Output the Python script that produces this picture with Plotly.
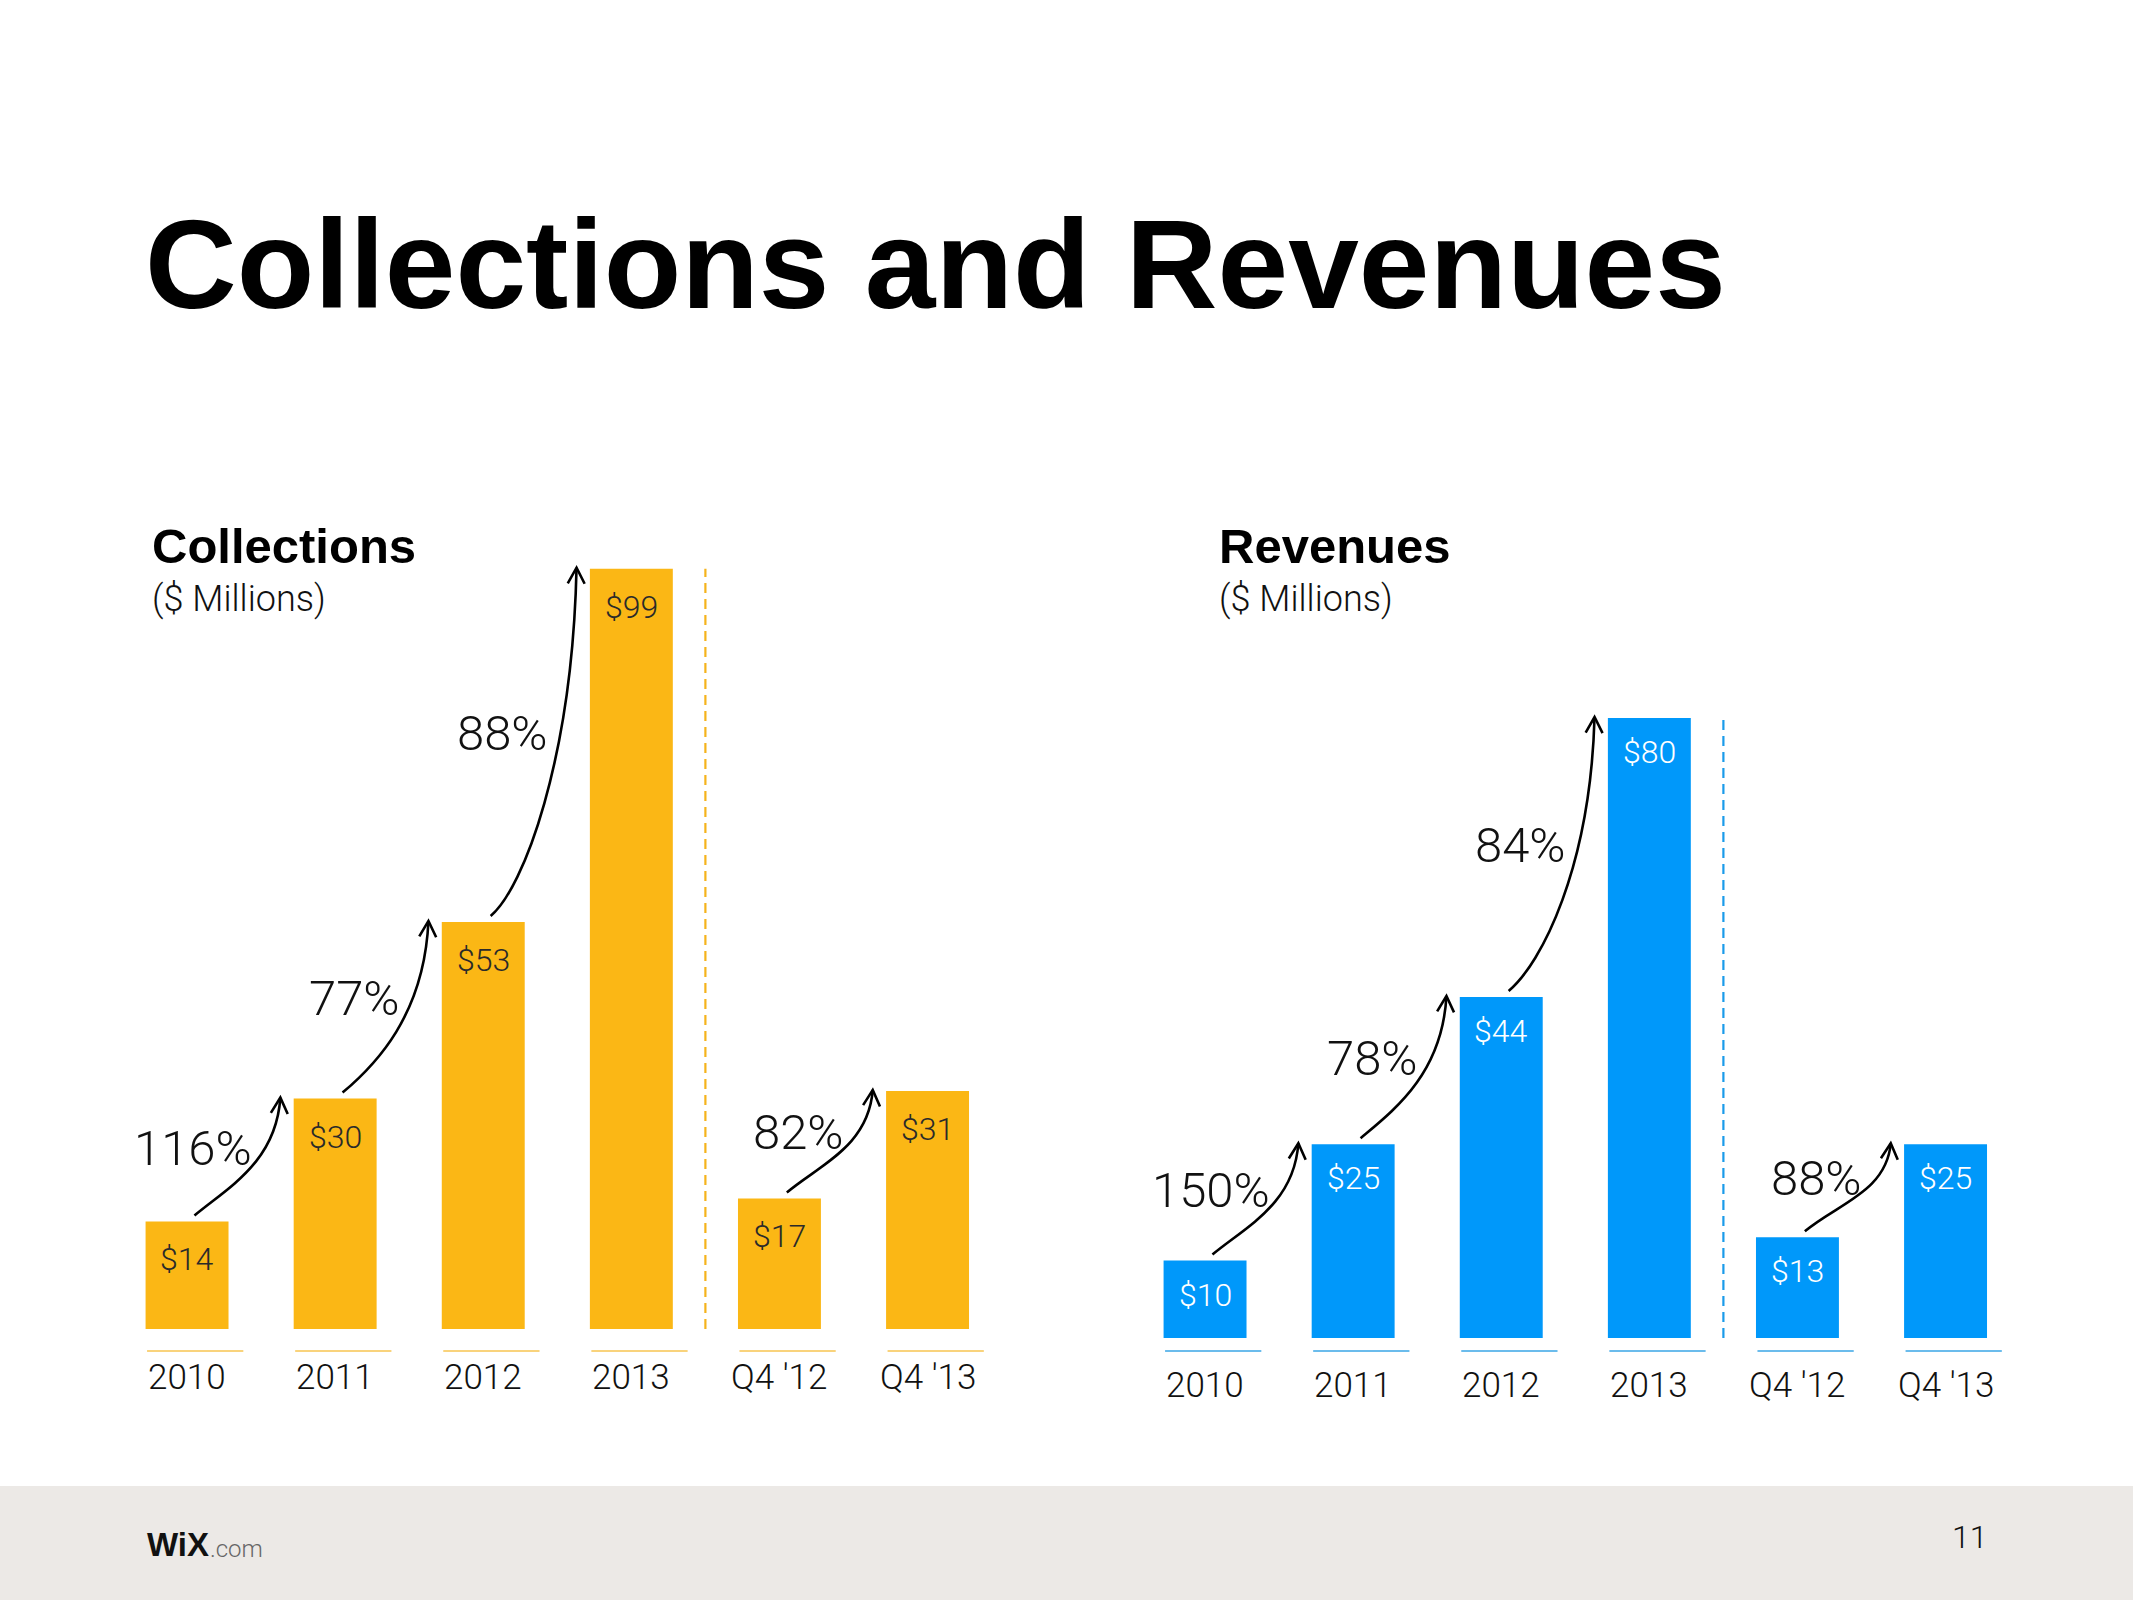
import math
import plotly.graph_objects as go

# ---------------- data ----------------
categories = ["2010", "2011", "2012", "2013", "Q4 '12", "Q4 '13"]
collections = [14, 30, 53, 99, 17, 31]
revenues = [10, 25, 44, 80, 13, 25]
collections_growth = ["116%", "77%", "88%", "82%"]
revenues_growth = ["150%", "78%", "84%", "88%"]
growth_from = [0, 1, 2, 4]
growth_to = [1, 2, 3, 5]
value_labels_collections = ["$14", "$30", "$53", "$99", "$17", "$31"]
value_labels_revenues = ["$10", "$25", "$44", "$80", "$13", "$25"]

# ---------------- layout constants ----------------
W, H = 2133, 1600
PITCH = 148.1          # px per category
Y_LO, Y_HI = -8, 110
LIGHT = "Roboto"
BOLD = "Liberation Sans"

panels = [
    dict(title="Collections", values=collections, growth=collections_growth,
         vlabels=value_labels_collections,
         color="#FBB715", tick_color="#F7C451", dash_color="#F5B31C",
         vlabel_color="#2a2a2a", left_px=113, zero_px=1329, pxu=7.68,
         value_shift=-38, cat_shift=-48, tick_gap=22, head_x=150,
         xa="x", ya="y", xkey="xaxis", ykey="yaxis"),
    dict(title="Revenues", values=revenues, growth=revenues_growth,
         vlabels=value_labels_revenues,
         color="#0098FA", tick_color="#3AA6E6", dash_color="#1A9BEA",
         vlabel_color="#ffffff", left_px=1131, zero_px=1338, pxu=7.75,
         value_shift=-34, cat_shift=-47, tick_gap=13, head_x=1217,
         xa="x2", ya="y2", xkey="xaxis2", ykey="yaxis2"),
]

fig = go.Figure()
shapes = []
annotations = []
layout_axes = {}

for p in panels:
    vals = p["values"]
    pxu = p["pxu"]
    n = len(categories)
    x_idx = list(range(n))

    x_dom = [p["left_px"] / W, (p["left_px"] + n * PITCH) / W]
    bottom_px = p["zero_px"] - Y_LO * pxu
    top_px = p["zero_px"] - Y_HI * pxu
    y_dom = [1 - bottom_px / H, 1 - top_px / H]

    layout_axes[p["xkey"]] = dict(domain=x_dom, range=[-0.5, n - 0.5], visible=False,
                                  fixedrange=True, anchor=p["ya"])
    layout_axes[p["ykey"]] = dict(domain=y_dom, range=[Y_LO, Y_HI], visible=False,
                                  fixedrange=True, anchor=p["xa"])

    fig.add_trace(go.Bar(x=x_idx, y=vals, width=0.56, marker_color=p["color"],
                         marker_line_width=0, xaxis=p["xa"], yaxis=p["ya"],
                         hoverinfo="skip", showlegend=False))

    # underline segments beneath each category
    for i in x_idx:
        shapes.append(dict(type="line", xref=p["xa"], yref=p["ya"],
                           x0=i - 0.27, x1=i + 0.38,
                           y0=-p["tick_gap"] / pxu, y1=-p["tick_gap"] / pxu,
                           line=dict(color=p["tick_color"], width=1.6)))
        annotations.append(dict(xref=p["xa"], yref=p["ya"], x=i, y=0,
                                yshift=p["cat_shift"], text=categories[i],
                                showarrow=False, xanchor="center", yanchor="middle",
                                font=dict(family=LIGHT, size=35, color="#111", weight=300)))
        annotations.append(dict(xref=p["xa"], yref=p["ya"], x=i, y=vals[i],
                                yshift=p["value_shift"], text=p["vlabels"][i],
                                showarrow=False, xanchor="center", yanchor="middle",
                                font=dict(family=LIGHT, size=32, color=p["vlabel_color"], weight=300)))

    # dashed separator between annual and quarterly bars
    shapes.append(dict(type="line", xref=p["xa"], yref=p["ya"], x0=3.5, x1=3.5,
                       y0=0, y1=vals[3],
                       line=dict(color=p["dash_color"], width=2.2, dash="10px,6px")))

    # growth arrows and labels
    for k, (i, j) in enumerate(zip(growth_from, growth_to)):
        xs, ys = i + 0.05, vals[i] + 6 / pxu
        xe, ye = j - 0.37, vals[j] + 1 / pxu
        dx_px = (xe - xs) * PITCH
        dy_px = (ye - ys) * pxu
        L = 0.5 * dx_px
        a = math.radians(40)
        p1 = (xs + L * math.cos(a) / PITCH, ys + L * math.sin(a) / pxu)
        off2 = (0.05 * dx_px, 0.55 * dy_px)
        p2 = (xe - off2[0] / PITCH, ye - off2[1] / pxu)
        path = (f"M {xs},{ys} C {p1[0]},{p1[1]} {p2[0]},{p2[1]} {xe},{ye}")
        shapes.append(dict(type="path", xref=p["xa"], yref=p["ya"], path=path,
                           line=dict(color="#000", width=2.6)))
        # arrowhead (open chevron)
        norm = math.hypot(*off2)
        bx, by = -off2[0] / norm, -off2[1] / norm
        th = math.radians(28)
        arm = 18
        pts = []
        for s in (1, -1):
            rx = bx * math.cos(s * th) - by * math.sin(s * th)
            ry = bx * math.sin(s * th) + by * math.cos(s * th)
            pts.append((xe + rx * arm / PITCH, ye + ry * arm / pxu))
        head = (f"M {pts[0][0]},{pts[0][1]} L {xe},{ye} L {pts[1][0]},{pts[1][1]}")
        shapes.append(dict(type="path", xref=p["xa"], yref=p["ya"], path=head,
                           line=dict(color="#000", width=2.6)))
        annotations.append(dict(xref=p["xa"], yref=p["ya"], x=i + 0.45,
                                y=(vals[i] + vals[j]) / 2, yshift=12,
                                text=p["growth"][k], showarrow=False,
                                xanchor="right", yanchor="middle",
                                font=dict(family=LIGHT, size=49, color="#111", weight=300)))

    # panel headings
    annotations.append(dict(xref="paper", yref="paper", x=p["head_x"] / W, y=1 - 546 / H,
                            text=p["title"], showarrow=False, xanchor="left", yanchor="middle",
                            font=dict(family=BOLD, size=49, color="#000", weight="bold")))
    annotations.append(dict(xref="paper", yref="paper", x=p["head_x"] / W, y=1 - 599 / H,
                            text="($ Millions)", showarrow=False, xanchor="left", yanchor="middle",
                            font=dict(family=LIGHT, size=36, color="#111", weight=300)))

# main title
annotations.append(dict(xref="paper", yref="paper", x=143 / W, y=1 - 264 / H,
                        text="Collections and Revenues", showarrow=False,
                        xanchor="left", yanchor="middle",
                        font=dict(family=BOLD, size=127, color="#000", weight="bold")))

# footer band
shapes.append(dict(type="rect", xref="paper", yref="paper", x0=0, x1=1, y0=0,
                   y1=1 - 1486 / H, fillcolor="#ECE9E6", line=dict(width=0), layer="below"))
annotations.append(dict(xref="paper", yref="paper", x=145 / W, y=1 - 1544 / H,
                        text="<b>WiX</b>", showarrow=False, xanchor="left", yanchor="middle",
                        font=dict(family=BOLD, size=33, color="#111")))
annotations.append(dict(xref="paper", yref="paper", x=208 / W, y=1 - 1549 / H,
                        text=".com", showarrow=False, xanchor="left", yanchor="middle",
                        font=dict(family=LIGHT, size=24, color="#666", weight=300)))
annotations.append(dict(xref="paper", yref="paper", x=1970 / W, y=1 - 1537 / H,
                        text="11", showarrow=False, xanchor="center", yanchor="middle",
                        font=dict(family=LIGHT, size=32, color="#111", weight=300)))

fig.update_layout(
    width=W, height=H,
    margin=dict(l=0, r=0, t=0, b=0),
    paper_bgcolor="#ffffff", plot_bgcolor="rgba(0,0,0,0)",
    showlegend=False, barmode="group",
    shapes=shapes, annotations=annotations,
    **layout_axes,
)

fig.write_html("out.html", config={"displayModeBar": False},
               post_script="document.body.style.margin='0';document.body.style.overflow='hidden';")
